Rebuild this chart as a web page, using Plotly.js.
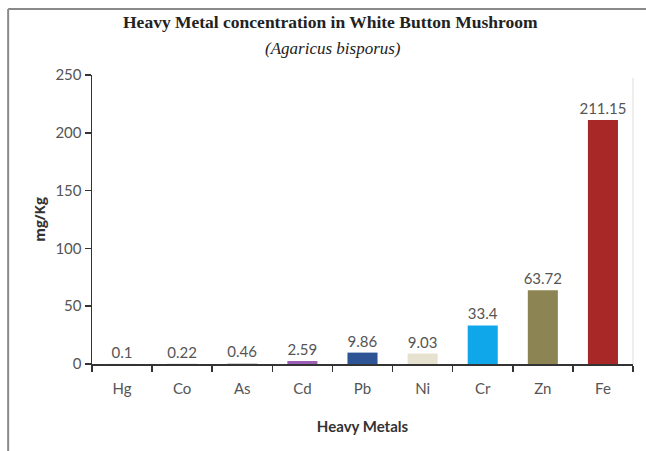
<!DOCTYPE html>
<html><head><meta charset="utf-8">
<script src="https://cdn.plot.ly/plotly-3.0.1.min.js"></script>
<style>body{margin:0;background:#fff}#c{width:646px;height:451px}</style>
</head><body><div id="c"></div>
<script>
const metals = ["Hg","Co","As","Cd","Pb","Ni","Cr","Zn","Fe"];
const values = [0.1,0.22,0.46,2.59,9.86,9.03,33.4,63.72,211.15];
const colors = ["#c9c2d6","#b8b8b8","#a9a9a9","#9b5fb5","#2d5596","#e6e2cf","#10a6ea","#8c8553","#a82828"];
const yTicks = [0,50,100,150,200,250];
const titleMain = "Heavy Metal concentration in White Button Mushroom";
const titleSub = "(Agaricus bisporus)";

const sans = "Lato, 'Open Sans', sans-serif";
const serif = "'Liberation Serif', 'DejaVu Serif', serif";
const trace = {
  type:"bar", x:metals, y:values,
  text: values.map(v=>String(v)), textposition:"outside", cliponaxis:false, constraintext:"none",
  textfont:{family:sans, size:15, color:"#555"},
  marker:{color:colors, line:{width:0}}, width:0.5, hoverinfo:"none"
};
const layout = {
  width:646, height:451, margin:{l:92,r:13,t:75,b:87},
  paper_bgcolor:"#fff", plot_bgcolor:"#fff", showlegend:false,
  annotations:[
    {text:"<b>"+titleMain+"</b>", xref:"paper", yref:"paper", x:0.441, y:1.183, xanchor:"center", yanchor:"middle",
     showarrow:false, font:{family:serif, size:17.5, color:"#222"}},
    {text:"<i>"+titleSub+"</i>", xref:"paper", yref:"paper", x:0.446, y:1.093, xanchor:"center", yanchor:"middle",
     showarrow:false, font:{family:serif, size:17, color:"#222"}}
  ],
  xaxis:{type:"category", showline:true, linecolor:"#333", linewidth:1.5,
    ticks:"outside", tickson:"boundaries", ticklen:6, tickcolor:"#333", tickwidth:1.5,
    ticklabelstandoff:10,
    tickfont:{family:sans, size:15, color:"#555"},
    showgrid:false, zeroline:false,
    title:{text:"<b>Heavy Metals</b>", font:{family:sans, size:15, color:"#333"}, standoff:26}},
  yaxis:{range:[0,250], tickvals:yTicks, showline:true, linecolor:"#333", linewidth:1.5,
    ticks:"outside", ticklen:6, tickcolor:"#333", tickwidth:1.5,
    tickfont:{family:sans, size:15, color:"#555"},
    showgrid:false, zeroline:false,
    title:{text:"<b>mg/Kg</b>", font:{family:"'Open Sans', Lato, sans-serif", size:14, color:"#333"}, standoff:6}},
  shapes:[
    {type:"line", xref:"paper", yref:"paper", x0:-0.155, x1:1.03, y0:1.228, y1:1.228, line:{color:"#8a8a8a", width:2}},
    {type:"line", xref:"paper", yref:"paper", x0:-0.155, x1:-0.155, y0:1.228, y1:-0.32, line:{color:"#8a8a8a", width:2}},
    {type:"line", xref:"paper", yref:"paper", x0:1, x1:1, y0:0, y1:0.99, line:{color:"#dddddd", width:1}}
  ]
};
Plotly.newPlot("c",[trace],layout,{staticPlot:true});
</script></body></html>
